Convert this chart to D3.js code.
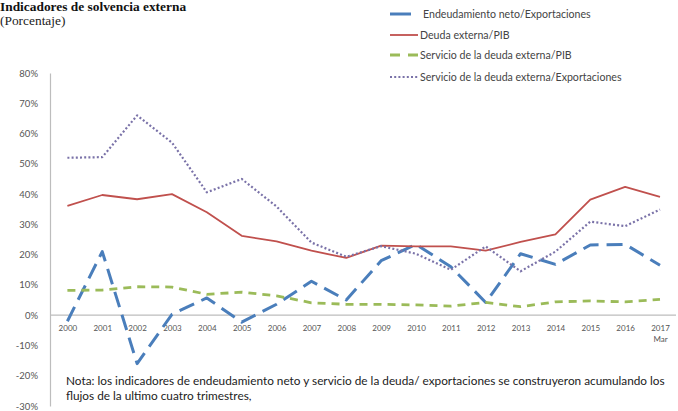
<!DOCTYPE html>
<html>
<head>
<meta charset="utf-8">
<script src="https://cdn.jsdelivr.net/npm/d3@7"></script>
<style>
  html, body { margin: 0; padding: 0; background: #fff; }
  svg { display: block; }
</style>
</head>
<body>
<svg id="chart" width="678" height="411"></svg>
<script>
// Años del período
const years = ["2000","2001","2002","2003","2004","2005","2006","2007","2008",
               "2009","2010","2011","2012","2013","2014","2015","2016","2017"];

// Series en porcentaje
const endeudamientoNetoExport = [-2, 21, -16, 0.3, 5.7, -2.3, 3.6, 11.2, 5, 18, 23.4, 16, 4.2, 20.3, 16.8, 23.2, 23.4, 16.5];
const deudaExternaPIB         = [36.1, 39.7, 38.3, 40, 34, 26.2, 24.4, 21.3, 18.9, 23, 22.7, 22.7, 21.3, 24.2, 26.7, 38.2, 42.4, 39.1];
const servicioDeudaPIB        = [8.2, 8.3, 9.4, 9.3, 6.9, 7.6, 6.4, 4.1, 3.6, 3.6, 3.4, 3, 4.2, 2.8, 4.4, 4.7, 4.4, 5.2];
const servicioDeudaExport     = [52, 52.2, 66, 57, 40.6, 45, 35.9, 24, 19.3, 22.8, 20.3, 15, 22.7, 14.5, 21, 30.9, 29.4, 34.9];

const yTicks = [80, 70, 60, 50, 40, 30, 20, 10, 0, -10, -20, -30];

const seriesNames = [
  "Endeudamiento neto/Exportaciones",
  "Deuda externa/PIB",
  "Servicio de la deuda externa/PIB",
  "Servicio de la deuda externa/Exportaciones"
];

const series = [
  { name: seriesNames[0], values: endeudamientoNetoExport, color: "#4a7ebb", width: 3,   dash: "16,8" },
  { name: seriesNames[1], values: deudaExternaPIB,         color: "#c0504d", width: 1.8, dash: null },
  { name: seriesNames[2], values: servicioDeudaPIB,        color: "#9bbb59", width: 2.8, dash: "8,6" },
  { name: seriesNames[3], values: servicioDeudaExport,     color: "#7a72a8", width: 2.2, dash: "2,2.2" }
];

const svg = d3.select("#chart");

const x = d3.scalePoint().domain(years).range([67.4, 660]);
const y = d3.scaleLinear().domain([-30, 80]).range([406, 73]);

// Título
svg.append("text")
  .attr("x", 0).attr("y", 11)
  .attr("font-family", "Liberation Serif, Times New Roman, serif")
  .attr("font-size", 13.4).attr("font-weight", "bold")
  .attr("fill", "#111")
  .text("Indicadores de solvencia externa");
svg.append("text")
  .attr("x", 0).attr("y", 25)
  .attr("font-family", "Liberation Serif, Times New Roman, serif")
  .attr("font-size", 13.4)
  .attr("fill", "#222")
  .text("(Porcentaje)");

// Eje vertical
const yAxis = d3.axisLeft(y).tickValues(yTicks).tickSize(0).tickPadding(12)
  .tickFormat(d => d + "%");
const gy = svg.append("g").attr("transform", "translate(50,0)").call(yAxis);
gy.select(".domain").attr("stroke", "#bdbdbd").attr("stroke-width", 1.2);
gy.selectAll("text")
  .attr("font-family", "Lato, Open Sans, sans-serif")
  .attr("font-size", 9.5).attr("fill", "#555");

// Eje horizontal sobre el cero
svg.append("line")
  .attr("x1", 50).attr("x2", 676)
  .attr("y1", y(0)).attr("y2", y(0))
  .attr("stroke", "#bdbdbd").attr("stroke-width", 1.2);

const xAxis = d3.axisBottom(x).tickSize(0).tickPadding(10);
const gx = svg.append("g").attr("transform", `translate(0,${y(0)})`).call(xAxis);
gx.select(".domain").remove();
gx.selectAll("text")
  .attr("font-family", "Lato, Open Sans, sans-serif")
  .attr("font-size", 8).attr("fill", "#555");
gx.selectAll(".tick").filter(d => d === "2017").select("text")
  .append("tspan").attr("x", 0).attr("dy", "1.35em").text("Mar");

// Líneas
const line = d3.line()
  .x((d, i) => x(years[i]))
  .y(d => y(d));

svg.append("g").selectAll("path")
  .data(series)
  .join("path")
  .attr("d", s => line(s.values))
  .attr("fill", "none")
  .attr("stroke", s => s.color)
  .attr("stroke-width", s => s.width)
  .attr("stroke-dasharray", s => s.dash)
  .attr("stroke-linejoin", "round");

// Leyenda
const legendRows = [14, 35, 55, 77];
const legend = svg.append("g");
series.forEach((s, i) => {
  const ly = legendRows[i];
  const x2 = i === 0 ? 411 : 418;
  legend.append("line")
    .attr("x1", 390).attr("x2", x2)
    .attr("y1", ly).attr("y2", ly)
    .attr("stroke", s.color)
    .attr("stroke-width", s.width)
    .attr("stroke-dasharray", i === 2 ? "10,8" : (i === 3 ? "2,2.2" : null));
  legend.append("text")
    .attr("x", i === 0 ? 423 : 420).attr("y", ly + 3.5)
    .attr("font-family", "Lato, Open Sans, sans-serif")
    .attr("font-size", 10.6).attr("fill", "#444")
    .text(s.name);
});

// Nota
const nota = svg.append("text")
  .attr("font-family", "Lato, Open Sans, sans-serif")
  .attr("font-size", 11.8).attr("fill", "#222");
nota.append("tspan").attr("x", 66).attr("y", 385)
  .text("Nota: los indicadores de endeudamiento neto  y servicio de la deuda/ exportaciones se construyeron acumulando los");
nota.append("tspan").attr("x", 66).attr("y", 400)
  .text("flujos de la ultimo cuatro trimestres,");
</script>
</body>
</html>
